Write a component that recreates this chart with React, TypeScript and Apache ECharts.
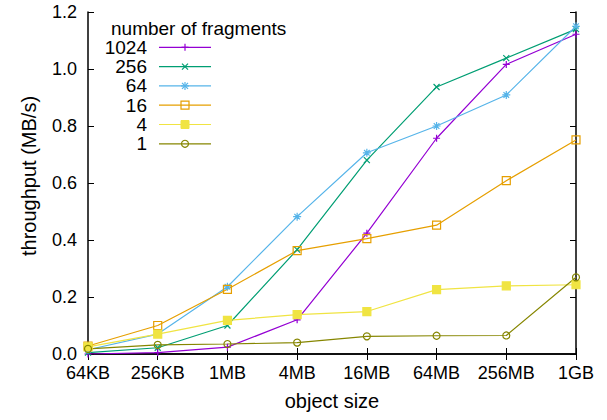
import React, { useEffect, useRef } from "react";
import * as echarts from "echarts";

const categories = ["64KB", "256KB", "1MB", "4MB", "16MB", "64MB", "256MB", "1GB"];
const seriesNames = ["1024", "256", "64", "16", "4", "1"];
const frag1024 = [0.0, 0.005, 0.024, 0.12, 0.424, 0.757, 1.016, 1.122];
const frag256 = [0.005, 0.022, 0.1, 0.366, 0.68, 0.937, 1.038, 1.14];
const frag64 = [0.015, 0.07, 0.236, 0.482, 0.706, 0.8, 0.909, 1.15];
const frag16 = [0.028, 0.1, 0.227, 0.363, 0.405, 0.452, 0.608, 0.751];
const frag4 = [0.025, 0.07, 0.118, 0.138, 0.149, 0.226, 0.239, 0.243];
const frag1 = [0.018, 0.032, 0.035, 0.04, 0.062, 0.064, 0.065, 0.269];

const colors = ["#9400d3", "#009e73", "#56b4e9", "#e69f00", "#f0e442", "#868600"];
const kinds = ["plus", "cross", "star", "square", "fsquare", "circle"];
const values = [frag1024, frag256, frag64, frag16, frag4, frag1];

const FONT = "Liberation Sans, Arial, Helvetica, sans-serif";

function symbolFor(kind: string): { symbol: string; size: number; fill: string } {
  switch (kind) {
    case "plus":
      return { symbol: "path://M0,1H2M1,0V2", size: 7, fill: "rgba(0,0,0,0)" };
    case "cross":
      return { symbol: "path://M0,0L2,2M2,0L0,2", size: 6, fill: "rgba(0,0,0,0)" };
    case "star":
      return {
        symbol: "path://M0,1H2M1,0V2M0.3,0.3L1.7,1.7M1.7,0.3L0.3,1.7",
        size: 8,
        fill: "rgba(0,0,0,0)",
      };
    case "square":
      return { symbol: "rect", size: 8, fill: "rgba(0,0,0,0)" };
    case "fsquare":
      return { symbol: "rect", size: 8, fill: "" };
    default:
      return { symbol: "circle", size: 7, fill: "rgba(0,0,0,0)" };
  }
}

function legendMarker(kind: string, cx: number, cy: number, color: string): any[] {
  const st = { stroke: color, lineWidth: 1.2 };
  const ln = (x1: number, y1: number, x2: number, y2: number) => ({
    type: "line",
    shape: { x1: cx + x1, y1: cy + y1, x2: cx + x2, y2: cy + y2 },
    style: st,
  });
  switch (kind) {
    case "plus":
      return [ln(-3.5, 0, 3.5, 0), ln(0, -3.5, 0, 3.5)];
    case "cross":
      return [ln(-3, -3, 3, 3), ln(3, -3, -3, 3)];
    case "star":
      return [ln(-4, 0, 4, 0), ln(0, -4, 0, 4), ln(-3, -3, 3, 3), ln(3, -3, -3, 3)];
    case "square":
      return [
        { type: "rect", shape: { x: cx - 4, y: cy - 4, width: 8, height: 8 }, style: { fill: "none", stroke: color, lineWidth: 1.2 } },
      ];
    case "fsquare":
      return [
        { type: "rect", shape: { x: cx - 4, y: cy - 4, width: 8, height: 8 }, style: { fill: color, stroke: color, lineWidth: 1 } },
      ];
    default:
      return [
        { type: "circle", shape: { cx, cy, r: 3.5 }, style: { fill: "none", stroke: color, lineWidth: 1.2 } },
      ];
  }
}

export default function App() {
  const ref = useRef<HTMLDivElement>(null);

  useEffect(() => {
    document.body.style.margin = "0";
    const chart = echarts.init(ref.current!, null, { renderer: "svg" });

    const series = seriesNames.map((name, i) => {
      const s = symbolFor(kinds[i]);
      return {
        name,
        type: "line",
        data: values[i],
        symbol: s.symbol,
        symbolSize: s.size,
        showSymbol: true,
        showAllSymbol: true,
        lineStyle: { color: colors[i], width: 1.2 },
        itemStyle: {
          color: s.fill || colors[i],
          borderColor: colors[i],
          borderWidth: 1.2,
        },
        emphasis: { disabled: true },
      };
    });

    const legendGraphics: any[] = [
      {
        type: "text",
        x: 111,
        y: 28,
        style: {
          text: "number of fragments",
          font: `19px ${FONT}`,
          fill: "#000",
          textAlign: "left",
          textVerticalAlign: "middle",
        },
      },
    ];
    seriesNames.forEach((name, i) => {
      const cy = 47.3 + i * 19.3;
      legendGraphics.push({
        type: "text",
        x: 147,
        y: cy,
        style: {
          text: name,
          font: `19px ${FONT}`,
          fill: "#000",
          textAlign: "right",
          textVerticalAlign: "middle",
        },
      });
      legendGraphics.push({
        type: "line",
        shape: { x1: 159, y1: cy, x2: 211, y2: cy },
        style: { stroke: colors[i], lineWidth: 1.2 },
      });
      legendMarker(kinds[i], 185, cy, colors[i]).forEach((g) => legendGraphics.push(g));
    });

    const axisLine = { show: true, lineStyle: { color: "#000", width: 1.5 } };
    const axisTick = { show: true, inside: true, length: 6, lineStyle: { color: "#000", width: 1 } };

    chart.setOption({
      animation: false,
      grid: { left: 88, right: 31, top: 12, bottom: 66, containLabel: false },
      xAxis: [
        {
          type: "category",
          data: categories,
          boundaryGap: false,
          position: "bottom",
          axisLine,
          axisTick: { ...axisTick, interval: 0 },
          axisLabel: {
            color: "#000",
            fontSize: 18,
            fontFamily: FONT,
            margin: 10,
            interval: 0,
            hideOverlap: false,
          },
          splitLine: { show: false },
          name: "object size",
          nameLocation: "middle",
          nameGap: 37,
          nameTextStyle: { color: "#000", fontSize: 20, fontFamily: FONT },
        },
        {
          type: "category",
          data: categories,
          boundaryGap: false,
          position: "top",
          axisLine,
          axisTick: { ...axisTick, interval: 0 },
          axisLabel: { show: false, interval: 0 },
          splitLine: { show: false },
        },
      ],
      yAxis: [
        {
          type: "value",
          min: 0,
          max: 1.2,
          interval: 0.2,
          position: "left",
          axisLine,
          axisTick,
          axisLabel: {
            color: "#000",
            fontSize: 18,
            fontFamily: FONT,
            margin: 11,
            formatter: (v: number) => v.toFixed(1),
          },
          splitLine: { show: false },
        },
        {
          type: "value",
          min: 0,
          max: 1.2,
          interval: 0.2,
          position: "right",
          axisLine,
          axisTick,
          axisLabel: { show: false },
          splitLine: { show: false },
        },
      ],
      graphic: [
        ...legendGraphics,
        {
          type: "text",
          x: 29,
          y: 176,
          rotation: Math.PI / 2,
          style: {
            text: "throughput (MB/s)",
            font: `20px ${FONT}`,
            fill: "#000",
            textAlign: "center",
            textVerticalAlign: "middle",
          },
        },
      ],
      series,
    });

    return () => chart.dispose();
  }, []);

  return <div ref={ref} style={{ width: 607, height: 420, position: "absolute", left: 0, top: 0 }} />;
}
